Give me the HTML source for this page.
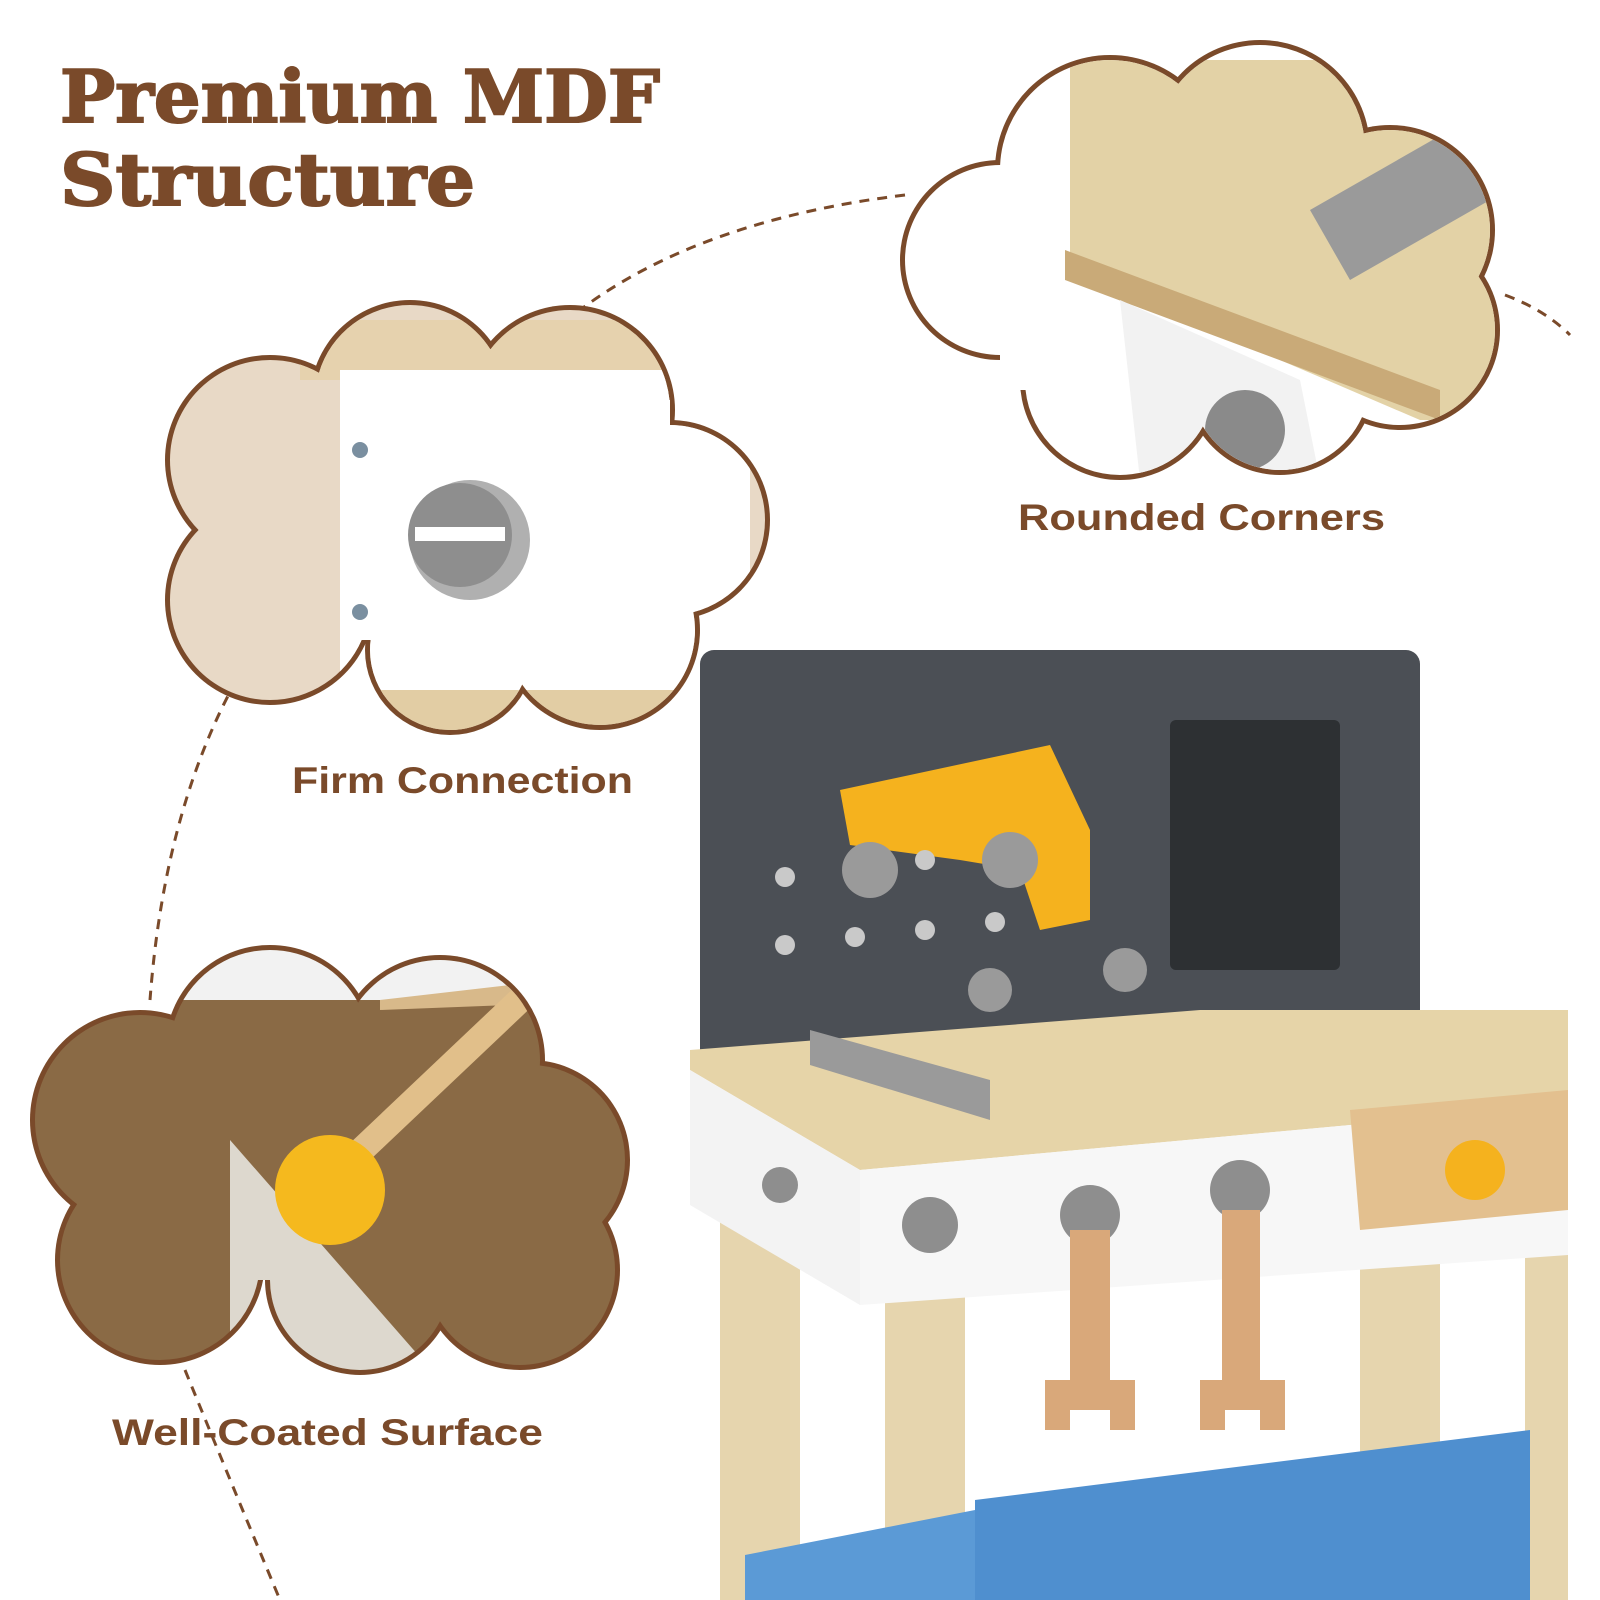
<!DOCTYPE html>
<html><head><meta charset="utf-8"><style>
html,body{margin:0;padding:0;background:#fff;}
svg{display:block}
</style></head><body>
<svg width="1600" height="1600" viewBox="0 0 1600 1600" xmlns="http://www.w3.org/2000/svg">
<defs>
<clipPath id="c1">
<circle cx="1000" cy="260" r="95"/><circle cx="1110" cy="170" r="110"/><circle cx="1260" cy="150" r="105"/><circle cx="1390" cy="230" r="100"/><circle cx="1400" cy="330" r="95"/><circle cx="1280" cy="380" r="90"/><circle cx="1120" cy="380" r="95"/><rect x="1000" y="170" width="400" height="220"/>
</clipPath>
<clipPath id="c2">
<circle cx="270" cy="460" r="100"/><circle cx="410" cy="400" r="95"/><circle cx="570" cy="410" r="100"/><circle cx="670" cy="520" r="95"/><circle cx="600" cy="630" r="95"/><circle cx="450" cy="650" r="80"/><circle cx="270" cy="600" r="100"/><rect x="270" y="400" width="400" height="240"/>
</clipPath>
<clipPath id="c3">
<circle cx="140" cy="1120" r="105"/><circle cx="270" cy="1050" r="100"/><circle cx="440" cy="1060" r="100"/><circle cx="530" cy="1160" r="95"/><circle cx="520" cy="1270" r="95"/><circle cx="360" cy="1280" r="90"/><circle cx="160" cy="1260" r="100"/><rect x="140" y="1050" width="390" height="230"/>
</clipPath>
</defs>

<path d="M 905 195 Q 700 220 580 310" fill="none" stroke="#7a4a2a" stroke-width="3" stroke-dasharray="10,8"/>
<path d="M 1505 295 Q 1545 310 1570 335" fill="none" stroke="#7a4a2a" stroke-width="3" stroke-dasharray="10,8"/>
<path d="M 245 665 Q 165 800 150 1000" fill="none" stroke="#7a4a2a" stroke-width="3" stroke-dasharray="10,8"/>
<path d="M 185 1370 Q 230 1480 280 1600" fill="none" stroke="#7a4a2a" stroke-width="3" stroke-dasharray="10,8"/>

<g fill="#7a4a2a">
<circle cx="1000" cy="260" r="100"/><circle cx="1110" cy="170" r="115"/><circle cx="1260" cy="150" r="110"/><circle cx="1390" cy="230" r="105"/><circle cx="1400" cy="330" r="100"/><circle cx="1280" cy="380" r="95"/><circle cx="1120" cy="380" r="100"/>
<circle cx="270" cy="460" r="105"/><circle cx="410" cy="400" r="100"/><circle cx="570" cy="410" r="105"/><circle cx="670" cy="520" r="100"/><circle cx="600" cy="630" r="100"/><circle cx="450" cy="650" r="85"/><circle cx="270" cy="600" r="105"/>
<circle cx="140" cy="1120" r="110"/><circle cx="270" cy="1050" r="105"/><circle cx="440" cy="1060" r="105"/><circle cx="530" cy="1160" r="100"/><circle cx="520" cy="1270" r="100"/><circle cx="360" cy="1280" r="95"/><circle cx="160" cy="1260" r="105"/>
</g>

<g clip-path="url(#c1)">
<rect x="880" y="40" width="640" height="450" fill="#fff"/>
<polygon points="1070,60 1520,60 1520,420 1420,420 1070,270" fill="#e3d2a6"/>
<polygon points="1065,250 1440,390 1440,420 1065,280" fill="#c9aa78"/>
<polygon points="1310,210 1450,130 1490,200 1350,280" fill="#9a9a9a"/>
<polygon points="1120,300 1300,380 1320,480 1140,480" fill="#f2f2f2"/>
<circle cx="1245" cy="430" r="40" fill="#8a8a8a"/>
</g>

<g clip-path="url(#c2)">
<rect x="150" y="280" width="630" height="470" fill="#e8d9c6"/>
<rect x="300" y="320" width="480" height="60" fill="#e6d2ae"/>
<rect x="340" y="370" width="410" height="330" fill="#ffffff"/>
<rect x="340" y="690" width="410" height="60" fill="#e2cda4"/>
<circle cx="470" cy="540" r="60" fill="#b0b0b0"/>
<circle cx="460" cy="535" r="52" fill="#8e8e8e"/>
<rect x="415" y="527" width="90" height="14" fill="#fff"/>
<circle cx="360" cy="450" r="8" fill="#7a8fa0"/><circle cx="360" cy="612" r="8" fill="#7a8fa0"/>
</g>

<g clip-path="url(#c3)">
<rect x="20" y="930" width="630" height="450" fill="#8a6a45"/>
<polygon points="230,1140 440,1380 230,1380" fill="#ddd8ce"/>
<rect x="160" y="940" width="480" height="60" fill="#f2f2f2"/>
<polygon points="380,1000 640,970 640,1000 380,1010" fill="#d8b98a"/>
<line x1="330" y1="1180" x2="520" y2="1000" stroke="#e1bf8a" stroke-width="26" stroke-linecap="round"/>
<circle cx="330" cy="1190" r="55" fill="#f5b91e"/>
</g>

<text x="60" y="122" font-family="DejaVu Serif, serif" font-weight="bold" font-size="72" fill="#7a4a2a" textLength="600" lengthAdjust="spacingAndGlyphs" stroke="#7a4a2a" stroke-width="2">Premium MDF</text>
<text x="60" y="205" font-family="DejaVu Serif, serif" font-weight="bold" font-size="72" fill="#7a4a2a" textLength="415" lengthAdjust="spacingAndGlyphs" stroke="#7a4a2a" stroke-width="2">Structure</text>

<g font-family="Liberation Sans, sans-serif" font-weight="bold" font-size="37" fill="#7a4a2a">
<text x="1018" y="530" textLength="367" lengthAdjust="spacingAndGlyphs">Rounded Corners</text>
<text x="292" y="793" textLength="341" lengthAdjust="spacingAndGlyphs">Firm Connection</text>
<text x="112" y="1445" textLength="431" lengthAdjust="spacingAndGlyphs">Well-Coated Surface</text>
</g>

<rect x="720" y="1140" width="80" height="460" fill="#e6d5ae"/>
<rect x="885" y="1260" width="80" height="340" fill="#e6d5ae"/>
<rect x="1360" y="1220" width="80" height="240" fill="#e6d5ae"/>
<rect x="1525" y="1220" width="43" height="380" fill="#e6d5ae"/>
<polygon points="975,1500 1530,1430 1530,1600 975,1600" fill="#4f8fcf"/>
<polygon points="745,1555 975,1510 975,1600 745,1600" fill="#5b9ad6"/>
<rect x="700" y="650" width="720" height="420" rx="14" fill="#4b4f55"/>
<rect x="1170" y="720" width="170" height="250" rx="6" fill="#2d3033"/>
<polygon points="840,790 1050,745 1090,830 1090,920 1040,930 1020,870 960,860 850,845" fill="#f5b21e"/>
<g fill="#9a9a9a"><circle cx="870" cy="870" r="28"/><circle cx="1010" cy="860" r="28"/><circle cx="990" cy="990" r="22"/><circle cx="1125" cy="970" r="22"/></g>
<g fill="#c9c9c9"><circle cx="785" cy="877" r="10"/><circle cx="925" cy="860" r="10"/><circle cx="785" cy="945" r="10"/><circle cx="855" cy="937" r="10"/><circle cx="925" cy="930" r="10"/><circle cx="995" cy="922" r="10"/></g>
<polygon points="690,1050 1200,1010 1568,1010 1568,1105 860,1170 690,1070" fill="#e6d4a8"/>
<polygon points="690,1070 860,1170 860,1305 690,1205" fill="#f3f3f3"/>
<polygon points="860,1170 1568,1105 1568,1255 860,1305" fill="#f7f7f7"/>
<polygon points="810,1030 990,1080 990,1120 810,1065" fill="#9a9a9a"/>
<polygon points="1350,1110 1568,1090 1568,1210 1360,1230" fill="#e3c08f"/>
<circle cx="1475" cy="1170" r="30" fill="#f5b21e"/>
<g fill="#8e8e8e"><circle cx="930" cy="1225" r="28"/><circle cx="1090" cy="1215" r="30"/><circle cx="1240" cy="1190" r="30"/><circle cx="780" cy="1185" r="18"/></g>
<g fill="#d9a87a">
<rect x="1070" y="1230" width="40" height="170"/><rect x="1222" y="1210" width="38" height="190"/>
<path d="M1045 1380 h90 v50 h-25 v-20 h-40 v20 h-25z"/><path d="M1200 1380 h85 v50 h-25 v-20 h-35 v20 h-25z"/>
</g>
</svg>
</body></html>
